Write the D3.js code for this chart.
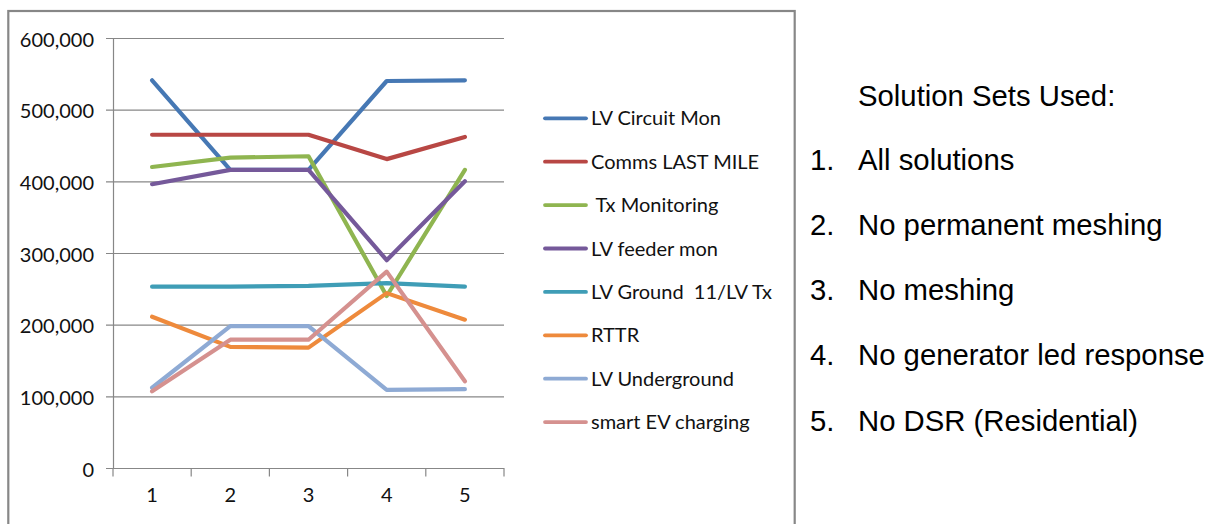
<!DOCTYPE html>
<html>
<head>
<meta charset="utf-8">
<script src="https://cdn.jsdelivr.net/npm/d3@7/dist/d3.min.js"></script>
<style>
  html, body { margin: 0; padding: 0; background: #ffffff; }
  svg { display: block; }
  text { white-space: pre; }
</style>
</head>
<body>
<svg id="chart" width="1214" height="524"></svg>
<script>
// ---- Data ----
const categories = ["1", "2", "3", "4", "5"];
const seriesNames = [
  "LV Circuit Mon",
  "Comms LAST MILE",
  " Tx Monitoring",
  "LV feeder mon",
  "LV Ground  11/LV Tx",
  "RTTR",
  "LV Underground",
  "smart EV charging"
];
const lvCircuitMon   = [541000, 416000, 416000, 540000, 541000];
const commsLastMile  = [465000, 465000, 465000, 431000, 462000];
const txMonitoring   = [420000, 433000, 435000, 240000, 416000];
const lvFeederMon    = [396000, 416000, 416000, 290000, 400000];
const lvGround       = [253000, 253000, 254000, 258000, 253000];
const rttr           = [211000, 169000, 168000, 244000, 207000];
const lvUnderground  = [112000, 198000, 198000, 109000, 110000];
const smartEV        = [107000, 179000, 179000, 274000, 121000];
const seriesValues = [lvCircuitMon, commsLastMile, txMonitoring, lvFeederMon, lvGround, rttr, lvUnderground, smartEV];
const seriesColors = ["#4678b4", "#b84744", "#8fb550", "#75599a", "#3f9db6", "#ee8a3c", "#8eaad4", "#d5918f"];
const yTicks = [0, 100000, 200000, 300000, 400000, 500000, 600000];
const solutionTitle = "Solution Sets Used:";
const solutionNums = ["1.", "2.", "3.", "4.", "5."];
const solutionSets = ["All solutions", "No permanent meshing", "No meshing", "No generator led response", "No DSR (Residential)"];

// ---- Layout ----
const svg = d3.select("#chart");
const plot = { left: 113, right: 504, top: 38, bottom: 468 };
const axisColor = "#878787";
const chartFont = "Lato, 'Open Sans', sans-serif";
const textColor = "#111111";

// Outer chart frame
svg.append("rect")
  .attr("x", 8.3).attr("y", 11).attr("width", 786.4).attr("height", 540)
  .attr("fill", "none").attr("stroke", axisColor).attr("stroke-width", 2.2);

const x = d3.scaleBand().domain(categories).range([plot.left, plot.right]).paddingInner(0).paddingOuter(0);
const y = d3.scaleLinear().domain([0, 600000]).range([plot.bottom, plot.top]);
const cx = c => x(c) + x.bandwidth() / 2;

// Gridlines (incl. left tick marks)
const grid = svg.append("g").attr("transform", `translate(${plot.left},0)`)
  .call(d3.axisLeft(y).tickValues(yTicks).tickSize(-(plot.right - plot.left)).tickFormat(""));
grid.select(".domain").remove();
grid.selectAll(".tick line").attr("stroke", axisColor).attr("stroke-width", 1.2).attr("x2", plot.right - plot.left).attr("x1", -7);

// Y axis with labels
const yAxis = svg.append("g").attr("transform", `translate(${plot.left},0)`)
  .call(d3.axisLeft(y).tickValues(yTicks).tickFormat(d3.format(",")).tickSize(0).tickPadding(19));
yAxis.select(".domain").attr("stroke", axisColor).attr("stroke-width", 1.2);
yAxis.selectAll(".tick text")
  .attr("font-family", chartFont).attr("font-size", 20).attr("fill", textColor).attr("dy", "0.4em");

// X axis
const xAxis = svg.append("g").attr("transform", `translate(0,${plot.bottom})`)
  .call(d3.axisBottom(x).tickSize(0).tickPadding(25));
xAxis.select(".domain").attr("stroke", axisColor).attr("stroke-width", 1.2).attr("d", `M${plot.left - 7},0.5H${plot.right}`);
xAxis.selectAll(".tick text")
  .attr("font-family", chartFont).attr("font-size", 20).attr("fill", textColor).attr("dy", "0.45em");
// category boundary ticks
const boundaries = categories.map(c => x(c)).concat([x.range()[1]]);
svg.append("g").selectAll("line").data(boundaries).join("line")
  .attr("x1", d => d).attr("x2", d => d)
  .attr("y1", plot.bottom).attr("y2", plot.bottom + 8.5)
  .attr("stroke", axisColor).attr("stroke-width", 1.2);

// Lines
const line = d3.line().x((d, i) => cx(categories[i])).y(d => y(d));
svg.append("g").selectAll("path").data(seriesValues).join("path")
  .attr("d", d => line(d))
  .attr("fill", "none")
  .attr("stroke", (d, i) => seriesColors[i])
  .attr("stroke-width", 4.2)
  .attr("stroke-linejoin", "round")
  .attr("stroke-linecap", "round");

// Legend
const legendTop = 118.3, legendStep = 43.4;
const leg = svg.append("g").selectAll("g").data(seriesNames).join("g")
  .attr("transform", (d, i) => `translate(0,${legendTop + i * legendStep})`);
leg.append("line")
  .attr("x1", 545).attr("x2", 586).attr("y1", 0).attr("y2", 0)
  .attr("stroke", (d, i) => seriesColors[i]).attr("stroke-width", 3.8).attr("stroke-linecap", "round");
leg.append("text")
  .attr("x", 591).attr("y", 7)
  .attr("font-family", chartFont).attr("font-size", 20).attr("fill", textColor)
  .attr("xml:space", "preserve")
  .text(d => d);

// Right-side text
const rightFont = "'Liberation Sans', Arial, sans-serif";
svg.append("text").attr("x", 858).attr("y", 106)
  .attr("font-family", rightFont).attr("font-size", 29.3).attr("fill", "#000")
  .text(solutionTitle);
const items = svg.append("g").selectAll("g").data(solutionSets).join("g")
  .attr("transform", (d, i) => `translate(0,${169.5 + i * 65.3})`);
items.append("text").attr("x", 810).attr("y", 0)
  .attr("font-family", rightFont).attr("font-size", 29.3).attr("fill", "#000")
  .text((d, i) => solutionNums[i]);
items.append("text").attr("x", 858).attr("y", 0)
  .attr("font-family", rightFont).attr("font-size", 29.3).attr("fill", "#000")
  .text(d => d);
</script>
</body>
</html>
